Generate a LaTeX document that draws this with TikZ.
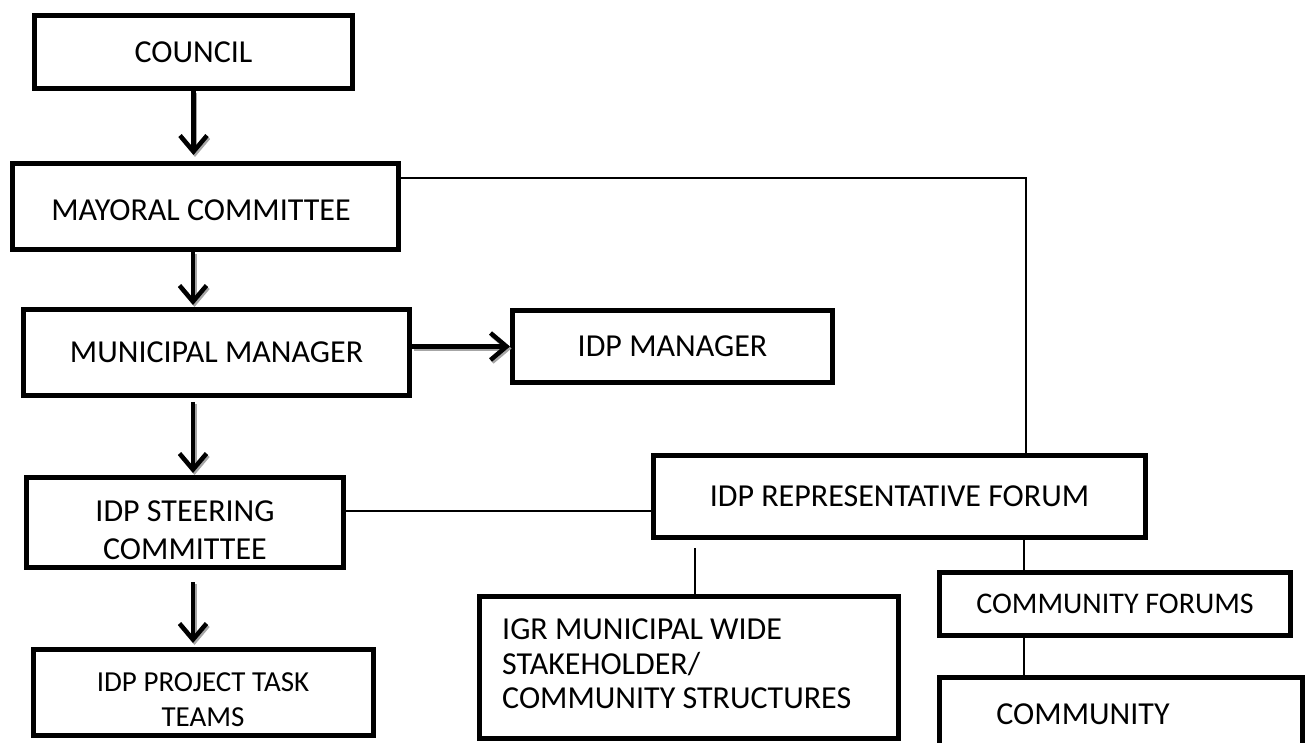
\documentclass[tikz,border=0pt]{standalone}
\usepackage{fontspec}
\setmainfont{Carlito}
\usetikzlibrary{arrows.meta}
\begin{document}
\begin{tikzpicture}[x=1pt,y=-1pt,
  box/.style={draw, line width=5pt, inner sep=0pt, align=center, font=\fontsize{32}{38}\selectfont},
  lbl/.style={inner sep=0pt, font=\fontsize{32}{38}\selectfont},
  conn/.style={line width=1.6pt},
  arr/.style={line width=4.5pt, -{Straight Barb[length=16pt,width=27pt]}},
  arrshadow/.style={arr, black!35, transform canvas={shift={(1.5pt,-2pt)}}}]
\useasboundingbox (0,0) rectangle (1310,743);
\clip (0,0) rectangle (1310,743);
% boxes
\node[box, minimum width=318pt, minimum height=73pt] (council) at (193.5,52) {COUNCIL};
\node[box, minimum width=386pt, minimum height=86pt] (mayoral) at (205.5,206.5) {};
\node[lbl] (mayoraltext) at (201,210) {MAYORAL COMMITTEE};
\node[box, minimum width=386pt, minimum height=86pt] (mm) at (216.5,352.5) {MUNICIPAL MANAGER};
\node[box, minimum width=320pt, minimum height=72pt] (idpm) at (672.5,346.5) {IDP MANAGER};
\node[box, minimum width=317pt, minimum height=90pt] (steer) at (185,522.5) {};
\node[lbl, align=center] (steertext) at (185,530) {IDP STEERING\\COMMITTEE};
\node[box, minimum width=340pt, minimum height=86pt] (proj) at (203.5,692.5) {};
\node[lbl, align=center, font=\fontsize{29}{35}\selectfont] (projtext) at (203,700) {IDP PROJECT TASK\\TEAMS};
\node[box, minimum width=492pt, minimum height=82pt] (rep) at (899.5,496.5) {IDP REPRESENTATIVE FORUM};
\node[box, minimum width=419pt, minimum height=142pt] (igr) at (689,667.5) {};
\node[lbl, anchor=west, align=left, font=\fontsize{32}{34.5}\selectfont] (igrtext) at (502,664) {IGR MUNICIPAL WIDE\\STAKEHOLDER/\\COMMUNITY STRUCTURES};
\node[box, minimum width=351pt, minimum height=63pt, font=\fontsize{30}{35}\selectfont] (cf) at (1115,604) {COMMUNITY FORUMS};
\node[box, minimum width=363pt, minimum height=103pt] (commbox) at (1121,729) {};
\node[lbl] (commtext) at (1083,714) {COMMUNITY};
% helper coordinates
\coordinate (axis) at (193,0);
\coordinate (corner) at (1026,178);
\coordinate (sr) at (0,511);
\coordinate (ix) at (695,0);
\coordinate (cx) at (1024,0);
% arrows (with soft shadow)
\draw[arrshadow, shorten >=6pt] (council.south) -- (mayoral.north -| council.south);
\draw[arr, shorten >=6pt] (council.south) -- (mayoral.north -| council.south);
\draw[arrshadow, shorten >=2pt] (mayoral.south -| axis) -- (mm.north -| axis);
\draw[arr, shorten >=2pt] (mayoral.south -| axis) -- (mm.north -| axis);
\draw[arrshadow, shorten <=4pt, shorten >=2pt] (mm.south -| axis) -- (steer.north -| axis);
\draw[arr, shorten <=4pt, shorten >=2pt] (mm.south -| axis) -- (steer.north -| axis);
\draw[arrshadow, shorten <=12pt, shorten >=4pt] (steer.south -| axis) -- (proj.north -| axis);
\draw[arr, shorten <=12pt, shorten >=4pt] (steer.south -| axis) -- (proj.north -| axis);
\draw[arrshadow] (mm.east |- idpm.west) -- (idpm.west);
\draw[arr] (mm.east |- idpm.west) -- (idpm.west);
% plain connectors
\draw[conn] (mayoral.east |- corner) -- (corner) -- (rep.north -| corner);
\draw[conn] (steer.east |- sr) -- (rep.west |- sr);
\draw[conn, shorten <=8pt] (rep.south -| ix) -- (igr.north -| ix);
\draw[conn] (rep.south -| cx) -- (cf.north -| cx);
\draw[conn] (cf.south -| cx) -- (commbox.north -| cx);
\end{tikzpicture}
\end{document}
